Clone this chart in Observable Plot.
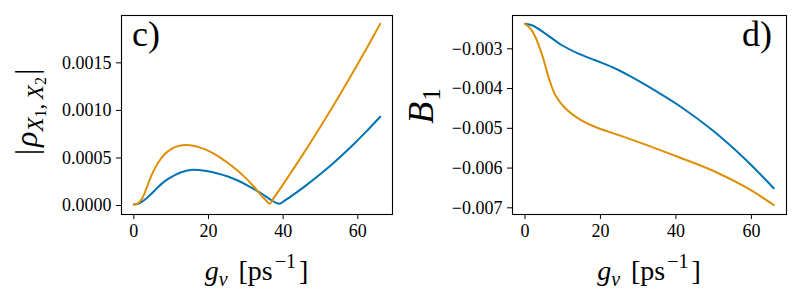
<!DOCTYPE html>
<html>
<head>
<meta charset="utf-8">
<script src="https://cdn.jsdelivr.net/npm/d3@7"></script>
<script src="https://cdn.jsdelivr.net/npm/@observablehq/plot@0.6"></script>
<style>
  html, body { margin: 0; padding: 0; background: #fff; }
  #wrap { position: relative; width: 800px; height: 300px; overflow: hidden; background: #fff; }
  #wrap svg { position: absolute; top: 0; overflow: visible; }
  #wrap svg text, #wrap svg tspan { font-family: 'Liberation Serif', 'Times New Roman', serif !important; }
  #wrap svg g[aria-label$="tick label"] text { font-size: 18px !important; }
</style>
</head>
<body>
<div id="wrap"></div>
<script>
// ---- Panel c) |rho_{X1,X2}| vs g_v ----
const cBlueX = [0, 1, 2, 3.5, 5.6, 7.5, 9.2, 11, 12.7, 15.8, 19.8, 22.2, 25.2, 28, 30.5, 33.6, 36.4, 38, 39.1, 40.5, 42.5, 45.8, 50, 54.7, 59.1, 62.5, 66];
const cBlueY = [0.00001, 0.000015, 0.000035, 0.00008, 0.000158, 0.00023, 0.00028, 0.00032, 0.00035, 0.000375, 0.00036, 0.00034, 0.000305, 0.00026, 0.00021, 0.00014, 0.000068, 0.00003, 0.000018, 0.000054, 0.000107, 0.000201, 0.000331, 0.00049, 0.000652, 0.000787, 0.000933];
const cOrangeX = [0, 1, 2, 3, 4, 5, 6.5, 8.2, 10.1, 12, 14, 16, 18, 20, 22, 24, 26, 28, 30, 32, 34, 35.5, 36.4, 37.5, 39, 41.3, 45, 50.2, 55, 59.1, 62.5, 66];
const cOrangeY = [0.00001, 0.00002, 0.00006, 0.00014, 0.000245, 0.00034, 0.00045, 0.000537, 0.000596, 0.000627, 0.000636, 0.000628, 0.000606, 0.000574, 0.000533, 0.00048, 0.000424, 0.00036, 0.000288, 0.000205, 0.000112, 0.00005, 0.000018, 0.00008, 0.000165, 0.000299, 0.000519, 0.000842, 0.001152, 0.001427, 0.001662, 0.00191];
const cYTicks = [0, 0.0005, 0.0010, 0.0015];

// ---- Panel d) B_1 vs g_v ----
const dBlueX = [0, 2, 5.5, 9.9, 14.3, 18.8, 23.2, 27.6, 31.95, 40.8, 49.7, 58.5, 65.9];
const dBlueY = [-0.00237, -0.002414, -0.002623, -0.002917, -0.003126, -0.003294, -0.003463, -0.003672, -0.003905, -0.004426, -0.00505, -0.00579, -0.006507];
const dOrangeX = [0, 1.5, 2.8, 4.6, 6.4, 8.1, 10.8, 14.3, 18.8, 25, 31.95, 40.8, 49.7, 58.5, 65.9];
const dOrangeY = [-0.00237, -0.002497, -0.002708, -0.003169, -0.003755, -0.004175, -0.004509, -0.004761, -0.004972, -0.005175, -0.00541, -0.005727, -0.006062, -0.006482, -0.006925];
const dYTicks = [-0.003, -0.004, -0.005, -0.006, -0.007];

const xTicks = [0, 20, 40, 60];
const BLUE = "#0173b2", ORANGE = "#de8f05";
const FONT = "'Liberation Serif', 'Times New Roman', serif";

const zip = (xs, ys) => xs.map((x, i) => ({x, y: ys[i]}));

function panel({blue, orange, yDomain, yTicks, yFormat, marginLeft, marginRight, curve}) {
  const svg = Plot.plot({
    width: 400, height: 300,
    marginLeft, marginRight, marginTop: 15, marginBottom: 86,
    style: {fontSize: "18px", color: "#000", background: "transparent", overflow: "visible"},
    x: {domain: [-3.3, 69.3]},
    y: {domain: yDomain},
    marks: [
      Plot.line(zip(...blue), {x: "x", y: "y", stroke: BLUE, strokeWidth: 2, curve}),
      Plot.line(zip(...orange), {x: "x", y: "y", stroke: ORANGE, strokeWidth: 2, curve}),
      Plot.axisX({ticks: xTicks, tickFormat: d3.format("d"), tickSize: 5, tickPadding: 5, label: null, fontSize: 18}),
      Plot.axisY({ticks: yTicks, tickFormat: yFormat, tickSize: 5, tickPadding: 5, label: null, fontSize: 18}),
      Plot.frame({stroke: "#000", strokeWidth: 1.1})
    ]
  });
  const s = d3.select(svg);
  s.attr("font-family", FONT).attr("font-size", 18).style("font-family", FONT);
  s.selectAll('g[aria-label$="tick label"]').attr("font-size", 18).style("font-size", "18px");
  s.selectAll("text").attr("font-family", FONT).style("font-family", FONT);
  s.selectAll('g[aria-label$="tick label"] text').attr("font-size", 18).style("font-size", "18px");
  return svg;
}

const wrap = document.getElementById("wrap");

const left = panel({
  blue: [cBlueX, cBlueY], orange: [cOrangeX, cOrangeY],
  yDomain: [-0.0000946, 0.001998], yTicks: cYTicks, yFormat: d3.format(".4f"),
  marginLeft: 121, marginRight: 8, curve: "catmull-rom"
});
left.style.left = "0px";
wrap.appendChild(left);

const right = panel({
  blue: [dBlueX, dBlueY], orange: [dOrangeX, dOrangeY],
  yDomain: [-0.007168, -0.002162], yTicks: dYTicks, yFormat: d3.format(".3f"),
  marginLeft: 112, marginRight: 14, curve: "catmull-rom"
});
right.style.left = "400px";
wrap.appendChild(right);

// ---- annotations ----
function xLabel(svg, cx) {
  const t = d3.select(svg).append("text")
    .attr("x", cx).attr("y", 280).attr("text-anchor", "middle")
    .attr("font-family", FONT).attr("font-size", 28).attr("fill", "#000");
  t.append("tspan").attr("font-style", "italic").text("g");
  t.append("tspan").attr("font-style", "italic").attr("font-size", 20).attr("dy", 6).text("v");
  t.append("tspan").attr("dy", -6).attr("dx", 11).text("[ps");
  t.append("tspan").attr("font-size", 20).attr("dy", -12).attr("dx", 2).text("\u22121");
  t.append("tspan").attr("dy", 12).attr("dx", 3).text("]");
}
xLabel(left, 256.5);
xLabel(right, 249);

// panel tags
d3.select(left).append("text").attr("x", 132).attr("y", 46).attr("text-anchor", "start")
  .attr("font-family", FONT).attr("font-size", 36).attr("fill", "#000").text("c)");
d3.select(right).append("text").attr("x", 372).attr("y", 46).attr("text-anchor", "end")
  .attr("font-family", FONT).attr("font-size", 36).attr("fill", "#000").text("d)");

// y label left: |rho_{X1, X2}|
{
  const t = d3.select(left).append("text")
    .attr("transform", "translate(37,112) rotate(-90)").attr("text-anchor", "middle")
    .attr("font-family", FONT).attr("font-size", 32).attr("fill", "#000");
  t.append("tspan").text("|");
  t.append("tspan").attr("font-style", "italic").attr("dx", 2).text("\u03c1");
  t.append("tspan").attr("font-style", "italic").attr("font-size", 23).attr("dy", 6).text("X");
  t.append("tspan").attr("font-size", 16).attr("dy", 3).text("1");
  t.append("tspan").attr("font-size", 23).attr("dy", -3).text(",\u2009");
  t.append("tspan").attr("font-style", "italic").attr("font-size", 23).text("X");
  t.append("tspan").attr("font-size", 16).attr("dy", 3).text("2");
  t.append("tspan").attr("dy", -9).attr("dx", 2).text("|");
}
// y label right: B_1
{
  const t = d3.select(right).append("text")
    .attr("transform", "translate(33,106) rotate(-90)").attr("text-anchor", "middle")
    .attr("font-family", FONT).attr("font-size", 36).attr("fill", "#000");
  t.append("tspan").attr("font-style", "italic").text("B");
  t.append("tspan").attr("font-size", 25).attr("dy", 7).attr("dx", 1).text("1");
}
// force a layout pass so all styles are resolved before the page is captured
left.getBBox(); right.getBBox(); void document.body.offsetHeight;
</script>
</body>
</html>
